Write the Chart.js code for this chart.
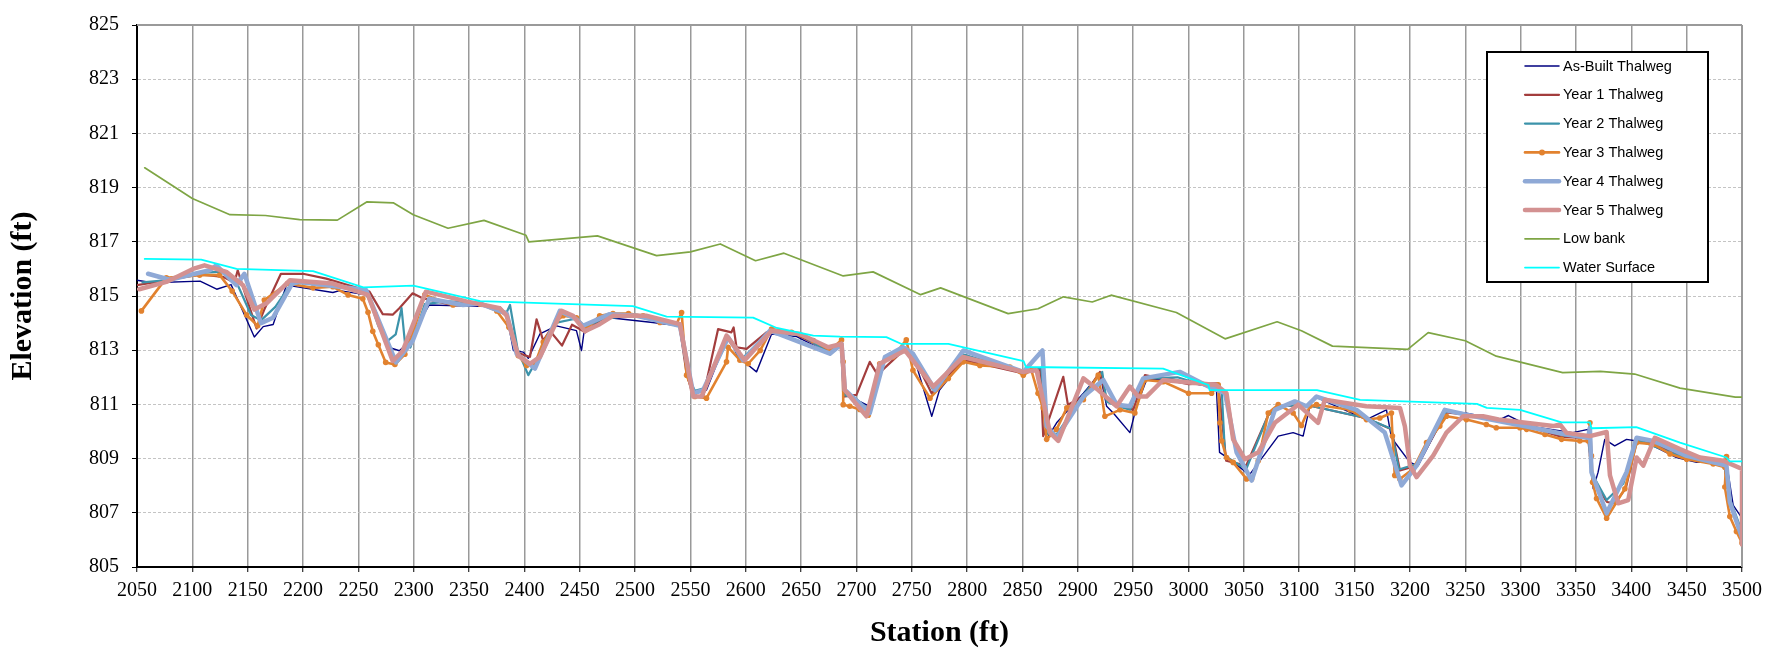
<!DOCTYPE html>
<html>
<head>
<meta charset="utf-8">
<script src="https://cdn.jsdelivr.net/npm/chart.js@4/dist/chart.umd.min.js"></script>
<style>
html,body{margin:0;padding:0;background:#fff;}
#wrap{width:1787px;height:656px;position:relative;}
</style>
</head>
<body>
<div id="wrap"><canvas id="c" width="1787" height="656"></canvas></div>
<script>
// ---------- data ----------
const seriesNames = ["As-Built Thalweg","Year 1 Thalweg","Year 2 Thalweg","Year 3 Thalweg","Year 4 Thalweg","Year 5 Thalweg","Low bank","Water Surface"];
const xTicks = {min:2050, max:3500, step:50};
const yTicks = {min:805, max:825, step:2};
const xAxisTitle = "Station (ft)";
const yAxisTitle = "Elevation (ft)";

const asBuiltSta = [2050,2064,2107,2122,2135,2156,2164,2173,2185,2227,2233,2257,2266,2278,2287,2293,2314,2378,2384,2390,2399,2403.5,2414,2429,2447,2451.6,2454.6,2477,2516,2540,2548,2555.5,2564.5,2584,2591.6,2600.7,2609.7,2623.3,2646,2676,2686.5,2688,2700,2712,2724,2743.8,2751,2768,2775,2796.5,2814.5,2850.7,2867,2871.8,2880.8,2905,2920,2926,2932,2947,2953,2962,2983,3010,3025,3028,3037,3055,3081,3094.5,3103.5,3109.6,3114,3160.7,3178.8,3183.3,3200,3207.4,3233,3251,3281,3289,3308,3347,3361,3365.6,3370,3376,3385,3395.7,3404.8,3413.8,3441,3459,3477,3486,3492,3500];
const asBuiltElev = [815.58,815.49,815.55,815.25,815.42,813.49,813.87,813.95,815.40,815.13,815.20,815.04,814.43,813.10,812.98,813.20,814.67,814.60,814.30,812.99,812.93,812.70,813.60,813.90,813.72,812.99,813.90,814.20,814.02,813.90,811.90,811.41,811.53,813.54,812.87,812.50,812.20,813.60,813.50,812.87,813.36,811.41,811.17,810.93,812.50,813.11,812.87,810.56,811.53,812.63,812.65,812.14,812.32,809.71,810.32,811.41,812.14,810.93,810.68,809.96,810.93,811.90,811.96,811.72,811.72,809.23,808.98,808.40,809.83,809.96,809.83,810.93,811.29,810.44,810.80,809.77,808.86,808.74,810.74,810.68,810.44,810.59,810.20,809.96,810.08,807.89,808.50,809.71,809.47,809.71,809.65,809.59,809.04,808.86,808.92,808.86,807.28,806.80];

const year1Sta = [2050,2080,2107,2128,2138,2141,2146,2158,2165,2180,2200,2221,2245,2260,2272,2281,2287,2299,2308,2336,2360,2384,2394,2405,2411,2417,2423,2434,2443,2450,2455,2468,2480,2510,2540,2546.5,2552.5,2561.5,2575,2587,2589,2591.6,2600.7,2618.7,2645,2676,2686.5,2688,2700,2712,2719,2743.8,2751,2768,2796,2850,2866,2868.7,2886.8,2891,2905,2920,2926,2938,2950,2960.6,3000,3026.8,3034,3052,3072,3081,3110,3160,3183.3,3191,3206,3233,3251,3290,3337,3361,3365,3378,3385,3395,3405,3420,3450,3484,3490,3500];
const year1Elev = [815.40,815.60,815.80,815.70,815.50,815.95,815.30,813.80,814.50,815.82,815.82,815.64,815.35,815.16,814.33,814.31,814.55,815.10,814.92,814.65,814.75,814.30,812.90,812.75,814.14,813.35,813.72,813.17,813.94,813.78,813.66,814.10,814.30,814.25,813.95,812.14,811.29,811.29,813.78,813.66,813.84,813.11,813.05,813.66,813.60,812.95,813.30,811.29,811.35,812.57,812.10,813.05,812.80,811.40,812.65,812.15,812.30,809.83,812.02,810.99,811.29,812.20,811.17,810.93,810.80,812.08,811.75,811.78,808.92,808.74,810.60,810.95,810.95,810.50,810.08,808.56,808.74,810.70,810.62,810.40,809.80,809.75,808.20,807.40,807.35,807.90,809.65,809.55,809.00,808.75,807.20,806.20];

const year2Sta = [2055,2080,2107,2128,2140,2153,2162,2175,2190,2230,2258,2268,2275,2283.7,2289,2292,2297,2310,2330,2360,2384,2387,2394,2403.5,2412,2429,2445,2455,2470,2500,2540,2548,2554,2563,2584,2597,2622,2650,2676,2686,2689,2700,2710,2724,2742,2751,2769,2796,2850,2867,2872,2881,2905,2922,2926,2935,2947,2959,2990,3018,3030,3033,3052,3072,3081,3110,3160,3183,3190,3206,3233,3251,3300,3340,3361,3365,3377.7,3392.7,3405,3440,3484,3490,3500];
const year2Elev = [815.50,815.60,815.85,815.90,815.50,814.30,814.10,814.60,815.50,815.40,815.10,813.90,813.30,813.58,814.55,813.30,813.10,814.70,814.80,814.75,814.40,814.67,813.00,812.08,812.70,814.02,814.15,813.85,814.15,814.30,813.92,812.00,811.50,811.60,813.40,812.70,813.70,813.55,812.90,813.30,811.35,811.20,810.85,812.55,813.10,812.85,811.55,812.85,812.20,812.35,809.90,809.90,811.35,812.20,811.10,810.95,810.80,811.95,812.00,811.65,811.50,809.10,808.60,810.60,810.95,810.95,810.50,810.10,808.60,808.80,810.75,810.60,810.30,809.85,809.80,808.40,807.47,808.07,809.70,809.15,808.75,807.40,806.30];

const year3Sta = [2054,2076.5,2106.6,2124.7,2136,2149,2159,2165,2186,2209,2227,2240.7,2254,2258.7,2263,2268,2274.7,2283,2292,2299,2310,2335.5,2360,2375,2386,2394.4,2402,2409.5,2417,2429,2435,2447,2456,2468,2480,2494,2507.3,2522.4,2537.4,2542,2546.5,2554,2564.5,2582.6,2584,2594.7,2602.2,2613,2623.3,2641.3,2661,2676,2686.5,2688,2688,2694,2703,2710.6,2721,2733,2745,2751,2766.4,2783,2796.5,2811.5,2838.6,2850.7,2858,2864,2868.7,2871.8,2880.8,2890,2905,2918.4,2924.4,2938,2951.5,2960.6,2977,3000,3020.8,3026.8,3028.3,3030,3034.3,3040.3,3052.4,3057,3063,3072,3081,3094.5,3102,3109.6,3115.6,3145.7,3160.7,3172.8,3183.3,3184.2,3186.3,3190.9,3203,3215,3227,3233,3251,3269,3278,3299.3,3305.4,3322,3337,3353.5,3361,3362.6,3364,3365,3368.6,3377.7,3386.7,3394.2,3404.8,3419.8,3434.9,3450,3474,3484.5,3486,3484.5,3489,3495,3500];
const year3Elev = [814.45,815.67,815.77,815.77,815.18,814.30,813.90,814.85,815.46,815.30,815.34,815.04,814.90,814.40,813.70,813.20,812.55,812.47,812.85,813.60,815.04,814.67,814.70,814.45,813.85,812.80,812.44,812.50,813.30,814.08,814.27,814.20,813.78,814.27,814.35,814.35,814.27,814.02,813.96,814.39,812.08,811.29,811.23,812.57,813.11,812.63,812.50,812.99,813.78,813.66,813.36,812.99,813.38,812.57,810.99,810.93,810.81,810.60,812.50,812.75,813.38,812.26,811.23,811.96,812.57,812.44,812.38,812.08,812.26,811.41,810.87,809.71,810.08,810.87,811.17,812.08,810.56,810.80,810.68,811.90,811.84,811.41,811.41,811.72,810.32,809.65,809.04,808.86,808.25,808.25,808.92,810.68,810.99,810.68,810.22,810.93,810.99,810.80,810.44,810.50,810.68,809.83,808.38,808.25,808.62,809.59,810.20,810.56,810.44,810.26,810.14,810.14,810.08,809.89,809.71,809.65,809.65,810.32,809.10,808.13,807.53,806.80,807.40,807.89,809.59,809.53,809.17,808.98,808.80,808.68,809.08,807.95,806.86,806.31,805.89];

const year4Sta = [2060,2079.5,2115.7,2121.7,2139.8,2147,2162,2172.9,2190,2197,2257,2284,2299,2314,2344.6,2360,2384,2393,2409.5,2432,2447,2453,2477,2501.3,2540.5,2552.5,2561.5,2584,2597.7,2621.8,2676,2686.5,2689.5,2709,2712,2725.7,2742,2751,2770.9,2796.5,2850.7,2868,2871.8,2880.8,2905,2923,2935,2947,2959,2992,3018,3033,3043.4,3057,3078,3096,3106.6,3115.6,3151.7,3177.3,3192.4,3206,3231.5,3251,3310,3340,3361,3362.6,3364,3377.7,3395.7,3404.8,3419.8,3450,3486,3489,3499.6];
const year4Elev = [815.82,815.60,815.95,816.13,815.40,815.82,814.00,814.20,815.45,815.52,815.22,812.55,813.34,814.90,814.67,814.72,814.35,812.87,812.32,814.45,814.14,813.90,814.33,814.27,813.90,811.41,811.53,813.48,812.63,813.72,812.87,813.23,811.53,810.81,810.68,812.75,813.11,812.87,811.53,812.99,812.20,812.99,810.20,809.77,811.29,811.90,810.99,810.93,811.96,812.20,811.66,811.41,809.23,808.19,810.80,811.11,810.93,811.29,810.80,809.96,808.01,808.74,810.80,810.62,810.15,809.90,809.77,810.14,808.50,806.98,808.50,809.77,809.65,809.10,808.74,807.40,806.13];

const year5Sta = [2052,2076.5,2100.6,2111,2130.7,2145.8,2156,2167,2188,2227,2258.7,2281,2290,2311,2323.5,2347.6,2377.7,2384,2394.4,2405,2414,2433.6,2444,2454.6,2468,2480,2510,2540.5,2552.5,2560,2582.6,2599,2623.3,2649,2674.5,2686.5,2689.5,2709,2721,2743.8,2769.4,2796.5,2850.7,2862.7,2874.8,2882.3,2905,2918.4,2935,2947,2954.5,2962,2977,3025,3034.3,3040.3,3050.9,3063,3078,3099,3117,3123,3160.7,3191,3195.4,3200,3206,3221,3233,3248,3266,3280,3329.4,3335.5,3341.5,3362.6,3377.7,3380.7,3388.2,3397.2,3404.8,3410.8,3421.3,3443.9,3462,3483,3500,3500];
const year5Elev = [815.25,815.52,816.00,816.13,815.89,815.40,814.50,814.73,815.58,815.46,815.04,812.60,812.97,815.16,815.04,814.80,814.55,814.27,812.80,812.50,812.75,814.45,814.27,813.70,813.96,814.27,814.27,813.96,811.29,811.29,813.54,812.63,813.72,813.60,813.11,813.23,811.53,810.56,812.50,812.99,811.66,812.75,812.20,812.26,809.96,809.65,811.96,811.53,810.93,811.66,811.29,811.29,811.90,811.72,811.41,809.71,808.98,809.23,810.32,810.99,810.32,811.17,810.93,810.87,810.20,808.74,808.32,809.11,809.96,810.56,810.56,810.44,810.20,810.26,809.95,809.83,809.98,808.38,807.35,807.47,809.04,808.74,809.77,809.35,809.04,808.92,808.62,805.83];

const lowBankSta = [2057,2100,2134,2166,2197,2231,2257.5,2281.5,2299.6,2331,2363.5,2401.4,2404,2466,2519.4,2550,2577,2608.8,2634.5,2688,2715,2758,2776,2837,2864,2887,2913,2930,2989,3033,3080,3102,3130,3198,3216.5,3250,3278,3338,3372,3403,3444,3494,3500];
const lowBankElev = [819.73,818.60,818.00,817.97,817.82,817.80,818.47,818.44,818.00,817.50,817.79,817.24,817.00,817.22,816.49,816.63,816.92,816.30,816.58,815.74,815.89,815.05,815.30,814.35,814.53,814.97,814.78,815.03,814.39,813.42,814.05,813.72,813.15,813.03,813.65,813.35,812.78,812.17,812.22,812.12,811.60,811.27,811.27];

const waterSta = [2057,2108,2140,2209,2254.5,2299.6,2360,2498,2528.5,2606.6,2628,2661,2685,2727,2740.7,2783,2851,2853,2977,3018,3019,3116,3155,3260.5,3269.5,3299.5,3337,3362.6,3364,3404.5,3444,3486,3489,3500];
const waterElev = [816.37,816.34,816.00,815.92,815.32,815.38,814.81,814.63,814.24,814.20,813.82,813.54,813.50,813.48,813.23,813.23,812.60,812.38,812.32,811.71,811.53,811.53,811.17,811.02,810.87,810.80,810.34,810.34,810.12,810.16,809.59,809.04,808.90,808.90];

// ---------- styles ----------
const colors = ["#000080","#A33D3D","#3C93AA","#E2822F","#8FA9D6","#D39191","#7EA544","#00FFFF"];
const widths = [1.4,2.2,2.2,2.6,4.5,4.5,1.7,1.8];

function pts(sta, elev){ return sta.map((s,i)=>({x:s, y:elev[i]})); }
const staArrays = [asBuiltSta,year1Sta,year2Sta,year3Sta,year4Sta,year5Sta,lowBankSta,waterSta];
const elevArrays = [asBuiltElev,year1Elev,year2Elev,year3Elev,year4Elev,year5Elev,lowBankElev,waterElev];

const datasets = seriesNames.map((name,i)=>({
  label: name,
  data: pts(staArrays[i], elevArrays[i]),
  borderColor: colors[i],
  backgroundColor: colors[i],
  borderWidth: widths[i],
  pointRadius: i===3 ? 2.8 : 0,
  pointBorderWidth: 0,
  pointBackgroundColor: colors[i],
  tension: 0,
  fill: false,
  order: 8 - i,
  borderJoinStyle: 'round',
  borderCapStyle: 'round'
}));

const legendPlugin = {
  id: 'boxLegend',
  afterDraw(chart){
    const ctx = chart.ctx;
    const L = 1487, T = 52, W = 221, H = 230;
    ctx.save();
    ctx.fillStyle = '#fff';
    ctx.fillRect(L, T, W, H);
    ctx.lineWidth = 2;
    ctx.strokeStyle = '#000';
    ctx.strokeRect(L, T, W, H);
    ctx.font = '14.5px "Liberation Sans", Arial, sans-serif';
    ctx.textBaseline = 'middle';
    ctx.fillStyle = '#000';
    seriesNames.forEach((name,i)=>{
      const y = 66 + i*28.8;
      ctx.beginPath();
      ctx.lineWidth = Math.max(widths[i], 1.5);
      ctx.strokeStyle = colors[i];
      ctx.lineCap = 'round';
      ctx.moveTo(1525, y); ctx.lineTo(1559, y);
      ctx.stroke();
      if (i===3){
        ctx.beginPath(); ctx.fillStyle = colors[i];
        ctx.arc(1542, y, 3, 0, Math.PI*2); ctx.fill();
      }
      ctx.fillStyle = '#000';
      ctx.fillText(name, 1563, y + 0.5);
    });
    ctx.restore();
  }
};

const frameTop = {
  id: 'frameTop',
  beforeDatasetsDraw(chart){
    const {ctx, chartArea:a} = chart;
    ctx.save();
    ctx.strokeStyle = '#9a9a9a';
    ctx.lineWidth = 2;
    ctx.beginPath();
    ctx.moveTo(a.left, a.top); ctx.lineTo(a.right, a.top);
    ctx.moveTo(a.right, a.top); ctx.lineTo(a.right, a.bottom);
    ctx.stroke();
    ctx.restore();
  }
};

Chart.defaults.font.family = '"Liberation Serif", "Times New Roman", serif';
Chart.defaults.color = '#000';

new Chart(document.getElementById('c'), {
  type: 'line',
  data: { datasets },
  options: {
    responsive: false,
    animation: false,
    devicePixelRatio: 1,
    layout: { padding: { left: 0, right: 45, top: 17, bottom: 0 } },
    plugins: { legend: { display: false }, tooltip: { enabled: false }, title: { display: false } },
    scales: {
      x: {
        type: 'linear',
        min: xTicks.min, max: xTicks.max,
        afterFit(s){ s.height = 89; },
        ticks: { stepSize: xTicks.step, autoSkip: false, maxRotation: 0, padding: 7, font: { size: 20 }, callback: v => String(v) },
        grid: { color: '#999999', lineWidth: 1.5, tickColor: '#000', tickLength: 5, tickWidth: 1 },
        border: { color: '#000', width: 2 },
        title: { display: true, text: xAxisTitle, font: { size: 30, weight: 'bold' }, padding: { top: 0, bottom: 5 } }
      },
      y: {
        type: 'linear',
        min: yTicks.min, max: yTicks.max,
        afterFit(s){ s.width = 137; },
        ticks: { stepSize: yTicks.step, padding: 13, font: { size: 20 }, callback: v => String(v) },
        grid: { color: '#c4c4c4', lineWidth: 1, tickColor: '#000', tickLength: 5, tickWidth: 1 },
        border: { color: '#000', width: 2, dash: [3, 2] },
        title: { display: true, text: yAxisTitle, font: { size: 30, weight: 'bold' }, padding: { top: 5, bottom: 0 } }
      }
    }
  },
  plugins: [frameTop, legendPlugin]
});
</script>
</body>
</html>
